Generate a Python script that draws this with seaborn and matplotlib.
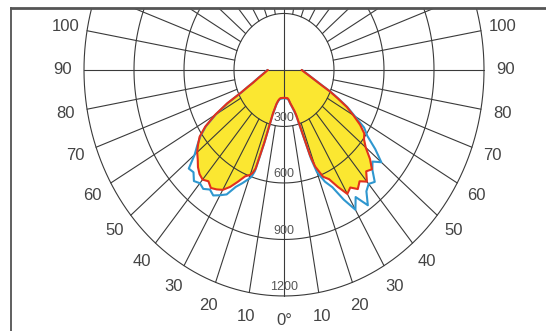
import numpy as np
import pandas as pd
import matplotlib
matplotlib.use("Agg")
import matplotlib.pyplot as plt
import seaborn as sns

# Polar light distribution, intensity in cd per angle (deg from nadir)
ANGLES = [0, 4, 8, 10, 12, 14, 16, 17, 18, 19, 20, 22.5, 25, 27.5, 30, 32.5, 35,
          37.5, 40, 42.5, 45, 47.5, 50, 52.5, 55, 57.5, 60, 62.5, 65, 67.5, 70,
          75, 80, 85, 90]

RED_LEFT = [148, 149, 151, 157, 166, 185, 240, 400, 550, 578, 592, 612, 655, 700,
            735, 752, 765, 745, 760, 750, 730, 702, 680, 650, 618, 560, 478, 385,
            285, 235, 198, 156, 128, 110, 97]
RED_RIGHT = [148, 149, 151, 160, 180, 200, 225, 250, 330, 480, 545, 614, 640, 700,
             760, 740, 772, 745, 774, 730, 746, 700, 640, 605, 588, 541, 480, 424,
             355, 299, 244, 182, 146, 122, 106]
BLUE_LEFT = [150, 152, 155, 160, 170, 190, 245, 410, 565, 600, 615, 650, 685, 745,
             768, 790, 775, 796, 785, 800, 768, 775, 700, 655, 612, 555, 472, 380,
             283, 236, 200, 158, 130, 112, 100]
BLUE_RIGHT = [150, 152, 155, 163, 185, 205, 235, 260, 345, 500, 575, 642, 687, 776,
              857, 800, 877, 812, 790, 806, 750, 720, 762, 690, 610, 570, 490, 430,
              360, 302, 247, 184, 148, 124, 108]

RINGS = [300, 600, 900, 1200]
SIDE_LABELS = [10, 20, 30, 40, 50, 60, 70, 80, 90, 100]


def outline(left, right):
    a = np.radians(ANGLES)
    l = np.array(left, dtype=float)
    r = np.array(right, dtype=float)
    # left half from 90 down to 0, then right half from 0 up to 90
    x = np.concatenate([-(l * np.sin(a))[::-1], (r * np.sin(a))[1:]])
    y = np.concatenate([-(l * np.cos(a))[::-1], -(r * np.cos(a))[1:]])
    return x, y


def main():
    sns.set_theme(style="white")
    plt.rcParams["font.family"] = ["Liberation Sans", "DejaVu Sans"]

    fig = plt.figure(figsize=(5.46, 3.31), dpi=100)
    ax = fig.add_axes([11 / 546, 0, 535 / 546, 323 / 331])
    ax.set_xlim(-1638, 1572)
    ax.set_ylim(-1386, 329)
    ax.set_xticks([])
    ax.set_yticks([])
    for side in ["right", "bottom"]:
        ax.spines[side].set_visible(False)
    ax.spines["top"].set_color("#555555")
    ax.spines["top"].set_linewidth(2.0)
    ax.spines["left"].set_color("#444444")
    ax.spines["left"].set_linewidth(1.2)

    # yellow fill under red curve
    rx, ry = outline(RED_LEFT, RED_RIGHT)
    ax.fill(rx, ry, color="#fbe731", lw=0, zorder=1)

    # grid
    gc = "#3a3a3a"
    t = np.linspace(0, 2 * np.pi, 400)
    for r in RINGS:
        ax.plot(r * np.sin(t), r * np.cos(t), color=gc, lw=0.8, zorder=2)
    ax.plot([0, 0], [-1200, 400], color=gc, lw=0.8, zorder=2)
    ax.plot([-1200, 1200], [0, 0], color=gc, lw=0.8, zorder=2)
    for deg in range(10, 180, 10):
        if deg == 90:
            continue
        a = np.radians(deg)
        for s in (-1, 1):
            ax.plot([s * 300 * np.sin(a), s * 1200 * np.sin(a)],
                    [-300 * np.cos(a), -1200 * np.cos(a)],
                    color=gc, lw=0.8, zorder=2)

    # measured curves
    bx, by = outline(BLUE_LEFT, BLUE_RIGHT)
    df = pd.DataFrame({
        "x": np.concatenate([bx, rx]),
        "y": np.concatenate([by, ry]),
        "curve": ["blue"] * len(bx) + ["red"] * len(rx),
    })
    sns.lineplot(data=df, x="x", y="y", hue="curve", sort=False, estimator=None,
                 palette={"blue": "#2f97cf", "red": "#e2301c"}, lw=1.5,
                 legend=False, ax=ax, zorder=3)
    ax.set_xlabel("")
    ax.set_ylabel("")

    # ring labels
    for r in RINGS:
        ax.text(0, -(r - 45), str(r), ha="center", va="center", fontsize=9,
                color="#555555", zorder=5)

    # angle labels
    lr = 1330
    ax.text(0, -lr, "0°", ha="center", va="center", fontsize=12, color="#444444")
    for deg in SIDE_LABELS:
        a = np.radians(deg)
        for s in (-1, 1):
            ax.text(s * lr * np.sin(a), -lr * np.cos(a), str(deg), ha="center",
                    va="center", fontsize=12, color="#444444")

    fig.savefig("out.png", dpi=100)
    plt.close(fig)


if __name__ == "__main__":
    main()
